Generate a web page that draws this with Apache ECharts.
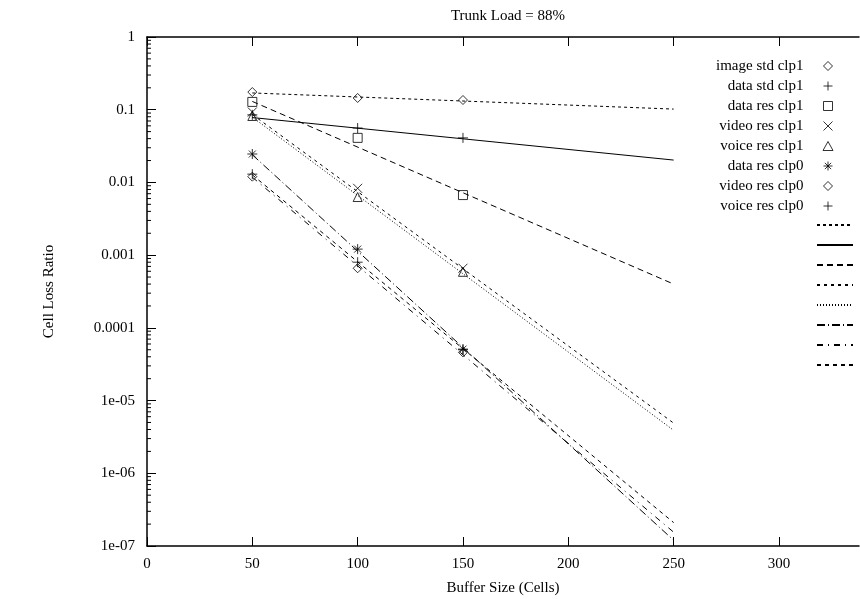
<!DOCTYPE html>
<html>
<head>
<meta charset="utf-8">
<title>Trunk Load = 88%</title>
<script src="https://cdn.jsdelivr.net/npm/echarts@6/dist/echarts.min.js"></script>
<style>
  html, body { margin: 0; padding: 0; background: #fff; }
  #chart { width: 860px; height: 599px; }
</style>
</head>
<body>
<div id="chart"></div>
<script>
// Measured cell loss ratio at each buffer size
const bufferSizes = [50, 100, 150];
const imageStdClp1 = [0.175, 0.145, 0.136];
const dataStdClp1 = [0.085, 0.056, 0.041];
const dataResClp1 = [0.128, 0.041, 0.0067];
const videoResClp1 = [0.093, 0.0083, 0.00066];
const voiceResClp1 = [0.082, 0.0063, 0.00059];
const dataResClp0 = [0.0246, 0.00121, 0.000051];
const videoResClp0 = [0.012, 0.00066, 0.000046];
const voiceResClp0 = [0.013, 0.0008, 0.00005];

// Exponential fits, evaluated at the ends of the fitted range
const fitRange = [50, 250];
const imageStdClp1Fit = [0.17, 0.102];
const dataStdClp1Fit = [0.078, 0.0203];
const dataResClp1Fit = [0.13, 0.0004];
const videoResClp1Fit = [0.086, 0.0000049];
const voiceResClp1Fit = [0.079, 0.0000039];
const dataResClp0Fit = [0.024, 0.00000012];
const videoResClp0Fit = [0.0118, 0.000000155];
const voiceResClp0Fit = [0.0127, 0.00000021];

// Axis tick values and labels
const xTickValues = [0, 50, 100, 150, 200, 250, 300];
const xTickLabels = ['0', '50', '100', '150', '200', '250', '300'];
const yTickLabels = ['1', '0.1', '0.01', '0.001', '0.0001', '1e-05', '1e-06', '1e-07'];
const minorMultipliers = [2, 3, 4, 5, 6, 7, 8, 9];

const FONT = '"Liberation Serif", "DejaVu Serif", serif';

const SYM = {
  diamond: 'path://M5,0L10,5L5,10L0,5Z',
  plus: 'path://M0,5L10,5M5,0L5,10',
  square: 'path://M0,0L10,0L10,10L0,10Z',
  cross: 'path://M0,0L10,10M0,10L10,0',
  triangle: 'path://M5,0L10,9L0,9Z',
  star: 'path://M0,5L10,5M5,0L5,10M1.5,1.5L8.5,8.5M1.5,8.5L8.5,1.5'
};

const pointSets = [
  { name: 'image std clp1', values: imageStdClp1, symbol: SYM.diamond, size: 9 },
  { name: 'data std clp1', values: dataStdClp1, symbol: SYM.plus, size: 10 },
  { name: 'data res clp1', values: dataResClp1, symbol: SYM.square, size: 9 },
  { name: 'video res clp1', values: videoResClp1, symbol: SYM.cross, size: 9 },
  { name: 'voice res clp1', values: voiceResClp1, symbol: SYM.triangle, size: 9 },
  { name: 'data res clp0', values: dataResClp0, symbol: SYM.star, size: 10 },
  { name: 'video res clp0', values: videoResClp0, symbol: SYM.diamond, size: 9 },
  { name: 'voice res clp0', values: voiceResClp0, symbol: SYM.plus, size: 10 }
];

const fitSets = [
  { name: 'fit 1', values: imageStdClp1Fit, dash: [3, 3] },
  { name: 'fit 2', values: dataStdClp1Fit, dash: 'solid' },
  { name: 'fit 3', values: dataResClp1Fit, dash: [6, 4] },
  { name: 'fit 4', values: videoResClp1Fit, dash: [3, 4] },
  { name: 'fit 5', values: voiceResClp1Fit, dash: [1, 2] },
  { name: 'fit 6', values: dataResClp0Fit, dash: [8, 3, 1, 3] },
  { name: 'fit 7', values: videoResClp0Fit, dash: [6, 5, 1, 5] },
  { name: 'fit 8', values: voiceResClp0Fit, dash: [4, 4] }
];

const series = [];

fitSets.forEach(f => {
  series.push({
    name: f.name,
    type: 'line',
    data: fitRange.map((x, i) => [x, f.values[i]]),
    symbol: 'none',
    silent: true,
    itemStyle: { color: '#000' },
    lineStyle: { color: '#000', width: 1, type: f.dash },
    z: 2
  });
});

pointSets.forEach(p => {
  series.push({
    name: p.name,
    type: 'scatter',
    data: bufferSizes.map((x, i) => [x, p.values[i]]),
    symbol: p.symbol,
    symbolSize: p.size,
    silent: true,
    itemStyle: { color: 'none', borderColor: '#000', borderWidth: 1 },
    z: 3
  });
});

// Minor ticks of the logarithmic axis, inside the left frame
const minorTicks = [];
for (let e = -7; e < 0; e++) {
  minorMultipliers.forEach(m => minorTicks.push([0, m * Math.pow(10, e)]));
}
series.push({
  type: 'custom',
  silent: true,
  data: minorTicks,
  renderItem: function (params, api) {
    const p = api.coord([api.value(0), api.value(1)]);
    return {
      type: 'line',
      shape: { x1: p[0], y1: p[1], x2: p[0] + 4, y2: p[1] },
      style: { stroke: '#000', lineWidth: 1 }
    };
  },
  z: 4
});

const chart = echarts.init(document.getElementById('chart'), null, { renderer: 'canvas' });

const yLabel = v => {
  const e = Math.round(Math.log10(v));
  return yTickLabels[-e] !== undefined ? yTickLabels[-e] : '';
};
const xLabel = v => {
  const i = xTickValues.indexOf(Math.round(v));
  return i >= 0 ? xTickLabels[i] : '';
};

const xCommon = {
  type: 'value',
  min: 0,
  max: 338,
  interval: 50,
  splitLine: { show: false },
  axisLine: { show: true, onZero: false, lineStyle: { color: '#000', width: 1.5 } },
  axisTick: { show: true, inside: true, length: 9, customValues: xTickValues, lineStyle: { color: '#000', width: 1 } }
};

chart.setOption({
  animation: false,
  backgroundColor: '#fff',
  title: {
    text: 'Trunk Load = 88%',
    left: 503,
    top: 4,
    textAlign: 'center',
    textStyle: { fontFamily: FONT, fontSize: 15, fontWeight: 'normal', color: '#000' }
  },
  grid: { left: 147, top: 37, width: 712, height: 509, containLabel: false, outerBoundsMode: 'none' },
  legend: [
    {
      data: pointSets.map(p => p.name),
      orient: 'vertical',
      align: 'right',
      right: 24.5,
      top: 56,
      padding: 0,
      itemWidth: 39,
      itemHeight: 9,
      itemGap: 0,
      selectedMode: false,
      itemStyle: { borderWidth: 1 },
      textStyle: { fontFamily: FONT, fontSize: 15, color: '#000', lineHeight: 20, height: 20 }
    },
    {
      data: fitSets.map(f => f.name),
      orient: 'vertical',
      align: 'left',
      left: 816,
      top: 217,
      padding: 0,
      itemWidth: 36,
      itemHeight: 20,
      itemGap: 4,
      selectedMode: false,
      formatter: () => '',
      itemStyle: { color: 'rgba(0,0,0,0)', borderColor: 'rgba(0,0,0,0)', borderWidth: 0, opacity: 0 },
      textStyle: { fontFamily: FONT, fontSize: 15, lineHeight: 20 }
    }
  ],
  xAxis: [
    Object.assign({}, xCommon, {
      position: 'bottom',
      name: 'Buffer Size (Cells)',
      nameLocation: 'middle',
      nameGap: 35,
      nameTextStyle: { fontFamily: FONT, fontSize: 15, color: '#000' },
      axisLabel: {
        fontFamily: FONT, fontSize: 15, color: '#000', margin: 11,
        customValues: xTickValues,
        formatter: xLabel
      }
    }),
    Object.assign({}, xCommon, {
      position: 'top',
      axisLabel: { show: false }
    })
  ],
  yAxis: {
    type: 'log',
    logBase: 10,
    min: 1e-7,
    max: 1,
    name: 'Cell Loss Ratio',
    nameLocation: 'middle',
    nameGap: 90,
    nameRotate: 90,
    nameTextStyle: { fontFamily: FONT, fontSize: 15, color: '#000' },
    axisLine: { show: true, onZero: false, lineStyle: { color: '#000', width: 1.5 } },
    axisTick: { show: true, inside: true, length: 9, lineStyle: { color: '#000', width: 1 } },
    axisLabel: { fontFamily: FONT, fontSize: 15, color: '#000', margin: 12, formatter: yLabel },
    splitLine: { show: false }
  },
  series: series
});
</script>
</body>
</html>
